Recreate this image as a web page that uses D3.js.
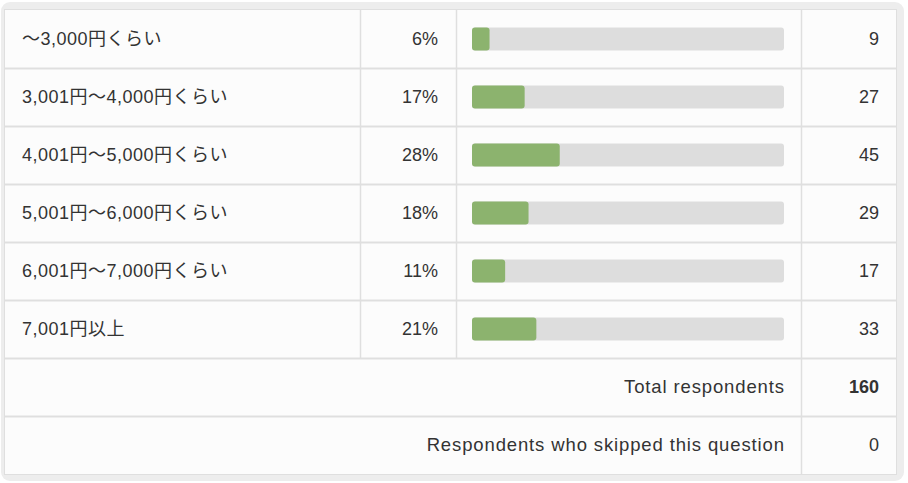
<!DOCTYPE html>
<html>
<head>
<meta charset="utf-8">
<script src="https://cdn.jsdelivr.net/npm/d3@7/dist/d3.min.js"></script>
<style>
  html, body { margin: 0; padding: 0; background: #ffffff; }
  svg { display: block; }
  text { font-family: "Liberation Sans", Arial, "Noto Sans CJK JP", sans-serif; fill: #333333; }
</style>
</head>
<body>
<div id="chart"></div>
<script>
const categories = ["～3,000円くらい", "3,001円～4,000円くらい", "4,001円～5,000円くらい", "5,001円～6,000円くらい", "6,001円～7,000円くらい", "7,001円以上"];
const percents = ["6%", "17%", "28%", "18%", "11%", "21%"];
const counts = [9, 27, 45, 29, 17, 33];
const totalLabel = "Total respondents";
const totalValue = 160;
const skippedLabel = "Respondents who skipped this question";
const skippedValue = 0;

const W = 908, H = 483;
const svg = d3.select("#chart").append("svg").attr("width", W).attr("height", H);

// outer panel
svg.append("rect").attr("x", 1).attr("y", 2).attr("width", 903).attr("height", 479)
  .attr("rx", 9).attr("fill", "#ededed");
svg.append("rect").attr("x", 4.5).attr("y", 9.5).attr("width", 892).attr("height", 465)
  .attr("fill", "#fcfcfc").attr("stroke", "#dfdfdf");

const nRows = categories.length + 2;
const y = d3.scaleBand().domain(d3.range(nRows)).range([10, 474]).paddingInner(0).paddingOuter(0);
const x = d3.scaleLinear().domain([0, totalValue]).range([472, 784]);

const colLabel = 22, colPctRight = 438, colCountRight = 879;
const lineColor = "#dfdfdf";

// horizontal row lines
for (let i = 1; i < nRows; i++) {
  svg.append("line").attr("x1", 5).attr("x2", 896)
    .attr("y1", Math.round(y(i)) + 0.5).attr("y2", Math.round(y(i)) + 0.5)
    .attr("stroke", lineColor).attr("stroke-width", 2);
}
// vertical lines
const yDataEnd = y(categories.length);
[360, 456].forEach(cx => {
  svg.append("line").attr("x1", cx + 0.5).attr("x2", cx + 0.5).attr("y1", 10).attr("y2", yDataEnd)
    .attr("stroke", lineColor).attr("stroke-width", 1.5);
});
svg.append("line").attr("x1", 801.5).attr("x2", 801.5).attr("y1", 10).attr("y2", 474)
  .attr("stroke", lineColor).attr("stroke-width", 1.5);

const fs = 18;
const rows = svg.selectAll("g.row").data(categories).enter().append("g").attr("class", "row");
rows.append("text").attr("x", colLabel).attr("y", (d, i) => y(i) + y.bandwidth() / 2 + 6)
  .attr("font-size", fs).attr("letter-spacing", 0.5).text(d => d);
rows.append("text").attr("x", colPctRight).attr("text-anchor", "end")
  .attr("y", (d, i) => y(i) + y.bandwidth() / 2 + 6)
  .attr("font-size", fs).text((d, i) => percents[i]);
rows.append("rect").attr("x", x(0)).attr("y", (d, i) => y(i) + y.bandwidth() / 2 - 11.5)
  .attr("width", x(totalValue) - x(0)).attr("height", 23).attr("rx", 3).attr("fill", "#dddddd");
rows.append("rect").attr("x", x(0)).attr("y", (d, i) => y(i) + y.bandwidth() / 2 - 11.5)
  .attr("width", (d, i) => x(counts[i]) - x(0)).attr("height", 23).attr("rx", 3).attr("fill", "#8cb36e");
rows.append("text").attr("x", colCountRight).attr("text-anchor", "end")
  .attr("y", (d, i) => y(i) + y.bandwidth() / 2 + 6)
  .attr("font-size", fs).text((d, i) => counts[i]);

const ti = categories.length;
const footFs = 18.5, footLs = 0.87;
svg.append("text").attr("x", 784 + footLs).attr("y", y(ti) + y.bandwidth() / 2 + 6).attr("text-anchor", "end")
  .attr("font-size", footFs).attr("letter-spacing", footLs).text(totalLabel);
svg.append("text").attr("x", colCountRight).attr("y", y(ti) + y.bandwidth() / 2 + 6).attr("text-anchor", "end")
  .attr("font-size", fs).attr("font-weight", "bold").text(totalValue);
svg.append("text").attr("x", 784 + footLs).attr("y", y(ti + 1) + y.bandwidth() / 2 + 6).attr("text-anchor", "end")
  .attr("font-size", footFs).attr("letter-spacing", footLs).text(skippedLabel);
svg.append("text").attr("x", colCountRight).attr("y", y(ti + 1) + y.bandwidth() / 2 + 6).attr("text-anchor", "end")
  .attr("font-size", fs).text(skippedValue);
</script>
</body>
</html>
